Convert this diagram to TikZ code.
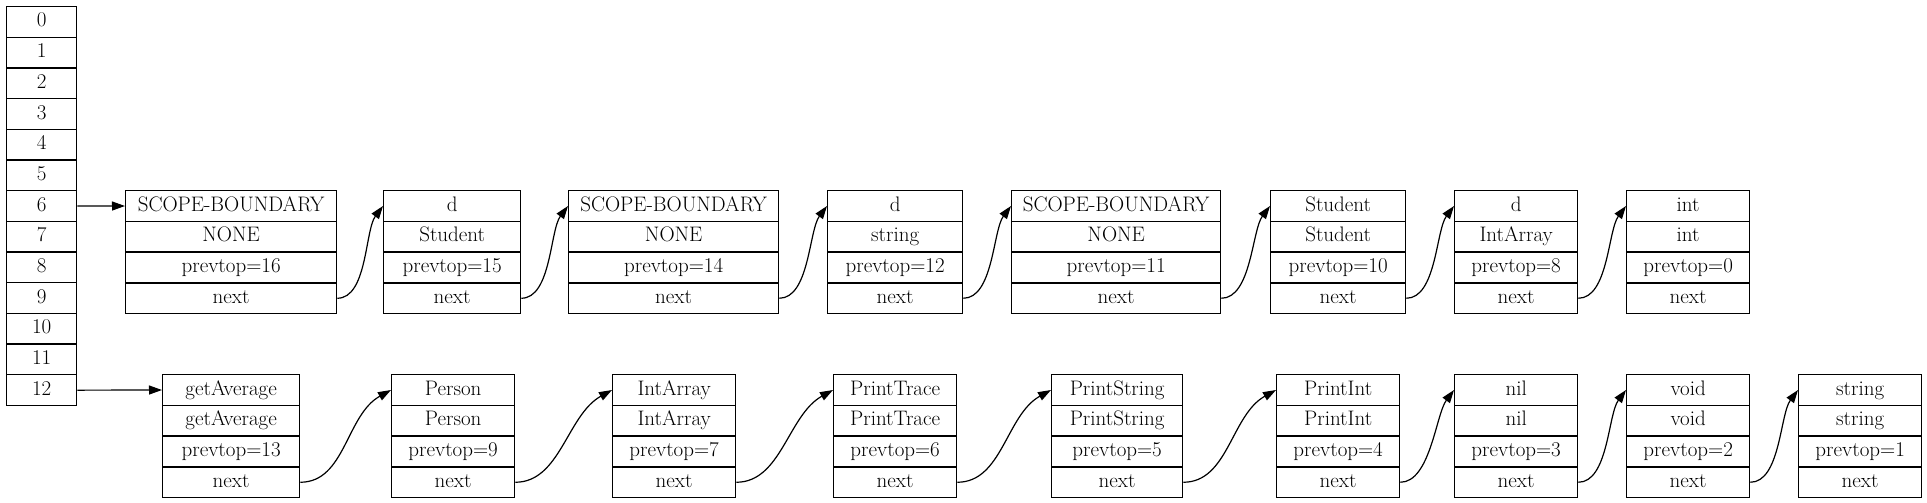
\documentclass[tikz,border=0pt]{standalone}
\usetikzlibrary{arrows.meta}
\tikzset{
  cell/.style={draw, line width=1.3pt, rectangle, inner sep=0pt, minimum height=30.7pt,
    text height=14.5pt, text depth=4.5pt, font=\fontsize{21}{25}\selectfont, anchor=north west},
  link/.style={line width=1.2pt, -{Triangle[length=13pt,width=9pt]}}
}
\newcommand\rec[8]{%
  \node[cell, minimum width={#3-#2}] (#1-1) at (#2,{#4}) {#5};
  \node[cell, minimum width={#3-#2}] (#1-2) at (#2,{#4+30.75}) {#6};
  \node[cell, minimum width={#3-#2}] (#1-3) at (#2,{#4+61.5}) {#7};
  \node[cell, minimum width={#3-#2}] (#1-4) at (#2,{#4+92.25}) {#8};
}
\begin{document}
\begin{tikzpicture}[x=1pt,y=-1pt]
\useasboundingbox (0,0) rectangle (1927,503);
% array
\foreach \i in {0,...,12}
  \node[cell, minimum width=70] (arr-\i) at (6,{6+\i*30.68}) {\i};
% top row
\rec{sba}{125}{336}{190}{SCOPE-BOUNDARY}{NONE}{prevtop=16}{next}
\rec{da}{383}{520}{190}{d}{Student}{prevtop=15}{next}
\rec{sbb}{568}{778}{190}{SCOPE-BOUNDARY}{NONE}{prevtop=14}{next}
\rec{db}{827}{962}{190}{d}{string}{prevtop=12}{next}
\rec{sbc}{1011}{1220}{190}{SCOPE-BOUNDARY}{NONE}{prevtop=11}{next}
\rec{stu}{1270}{1405}{190}{Student}{Student}{prevtop=10}{next}
\rec{dc}{1454}{1577}{190}{d}{IntArray}{prevtop=8}{next}
\rec{int}{1626}{1749}{190}{int}{int}{prevtop=0}{next}
% bottom row
\rec{ga}{162}{299}{374}{getAverage}{getAverage}{prevtop=13}{next}
\rec{per}{391}{514}{374}{Person}{Person}{prevtop=9}{next}
\rec{ia}{612}{735}{374}{IntArray}{IntArray}{prevtop=7}{next}
\rec{pt}{833}{956}{374}{PrintTrace}{PrintTrace}{prevtop=6}{next}
\rec{ps}{1051}{1182}{374}{PrintString}{PrintString}{prevtop=5}{next}
\rec{pi}{1276}{1399}{374}{PrintInt}{PrintInt}{prevtop=4}{next}
\rec{nil}{1454}{1577}{374}{nil}{nil}{prevtop=3}{next}
\rec{void}{1626}{1749}{374}{void}{void}{prevtop=2}{next}
\rec{str}{1798}{1921}{374}{string}{string}{prevtop=1}{next}
% links
\draw[link] (arr-6.east) -- (sba-1.west);
\draw[link] (arr-12.east) -- (ga-1.west);
\draw[link] (sba-4.east) .. controls +(30,0) and +(-18,24) .. (da-1.west);
\draw[link] (da-4.east) .. controls +(30,0) and +(-18,24) .. (sbb-1.west);
\draw[link] (sbb-4.east) .. controls +(30,0) and +(-18,24) .. (db-1.west);
\draw[link] (db-4.east) .. controls +(30,0) and +(-18,24) .. (sbc-1.west);
\draw[link] (sbc-4.east) .. controls +(30,0) and +(-18,24) .. (stu-1.west);
\draw[link] (stu-4.east) .. controls +(30,0) and +(-18,24) .. (dc-1.west);
\draw[link] (dc-4.east) .. controls +(30,0) and +(-18,24) .. (int-1.west);
\draw[link] (ga-4.east) .. controls +(45,0) and +(-45,25) .. (per-1.west);
\draw[link] (per-4.east) .. controls +(45,0) and +(-45,25) .. (ia-1.west);
\draw[link] (ia-4.east) .. controls +(45,0) and +(-45,25) .. (pt-1.west);
\draw[link] (pt-4.east) .. controls +(45,0) and +(-45,25) .. (ps-1.west);
\draw[link] (ps-4.east) .. controls +(45,0) and +(-45,25) .. (pi-1.west);
\draw[link] (pi-4.east) .. controls +(30,0) and +(-18,24) .. (nil-1.west);
\draw[link] (nil-4.east) .. controls +(30,0) and +(-18,24) .. (void-1.west);
\draw[link] (void-4.east) .. controls +(30,0) and +(-18,24) .. (str-1.west);
\end{tikzpicture}
\end{document}
